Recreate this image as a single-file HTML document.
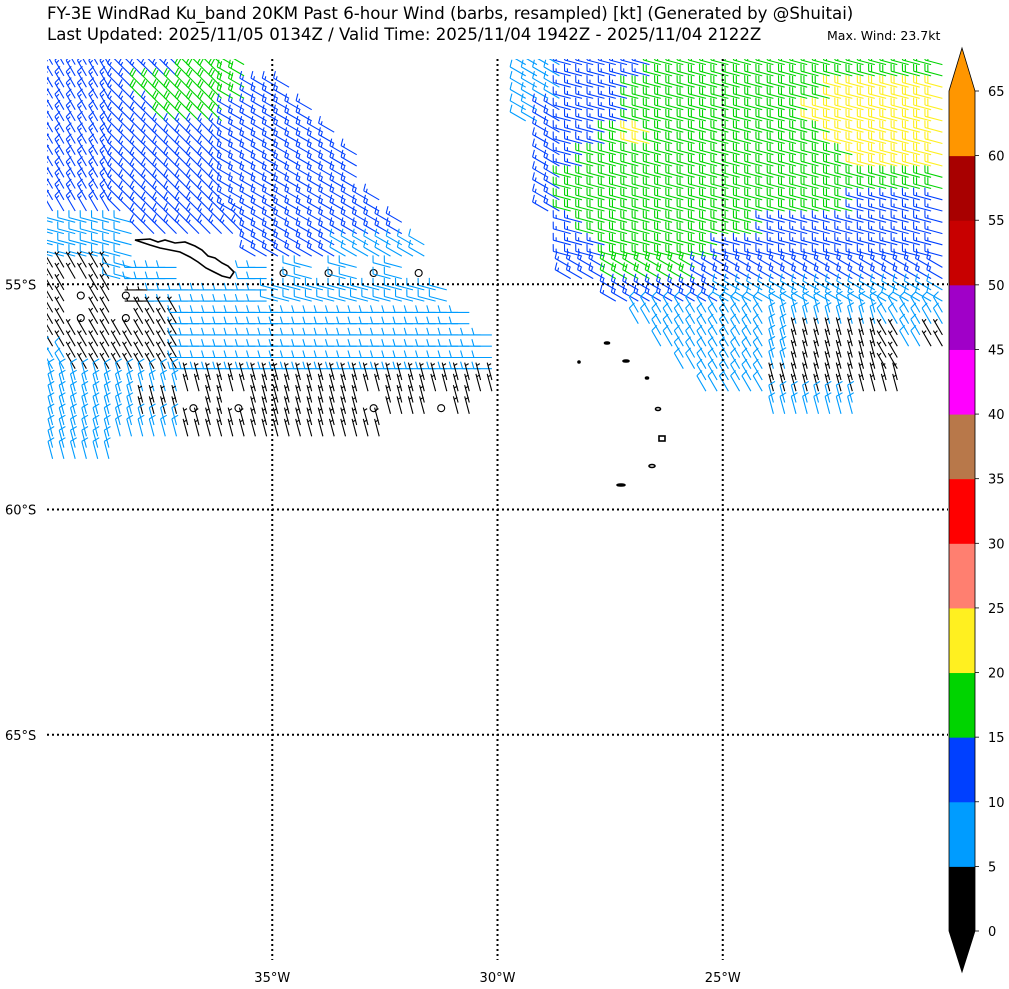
<!DOCTYPE html>
<html><head><meta charset="utf-8">
<style>
html,body{margin:0;padding:0;background:#fff;}
svg{display:block;font-family:"DejaVu Sans","Liberation Sans",sans-serif;}
</style></head>
<body>
<svg id="chart" width="1009" height="989" viewBox="0 0 1009 989" xmlns="http://www.w3.org/2000/svg">
<text x="47" y="19" font-size="16.6">FY-3E WindRad Ku_band 20KM Past 6-hour Wind (barbs, resampled) [kt] (Generated by @Shuitai)</text>
<text x="47" y="40" font-size="16.6">Last Updated: 2025/11/05 0134Z / Valid Time: 2025/11/04 1942Z - 2025/11/04 2122Z</text>
<text x="827" y="40" font-size="12.5">Max. Wind: 23.7kt</text>
<defs><clipPath id="mapclip"><rect x="47" y="59" width="901" height="901"/></clipPath></defs>
<g id="barbs" clip-path="url(#mapclip)"></g>
<g id="land" fill="none" stroke="#000" stroke-width="1.6">
<path d="M135,240 L150,239 L158,242 L165,240 L175,243 L185,242 L195,246 L202,250 L208,256 L215,258 L222,263 L228,266 L234,272 L230,278 L222,276 L214,272 L206,268 L198,262 L190,257 L180,252 L170,250 L160,248 L150,245 Z"/>
<ellipse cx="607" cy="343" rx="2.5" ry="1" fill="#000"/>
<ellipse cx="626" cy="361" rx="3" ry="1" fill="#000"/>
<ellipse cx="579" cy="362" rx="1" ry="1" fill="#000"/>
<ellipse cx="647" cy="378" rx="1.5" ry="1" fill="#000"/>
<ellipse cx="658" cy="409" rx="2.5" ry="1.5"/>
<rect x="659" y="436" width="6" height="5"/>
<ellipse cx="652" cy="466" rx="3" ry="1.5"/>
<ellipse cx="621" cy="485" rx="4" ry="1" fill="#000"/>
</g>
<g id="grid" stroke="#000" stroke-width="2" stroke-dasharray="2,3"></g>
<g id="labels" font-size="13"></g>
<g id="cbar"></g>
</svg>
<script>
// ---- data ----
const lonTicks = [-35, -30, -25];
const latTicks = [-55, -60, -65];
const cbLevels = [0,5,10,15,20,25,30,35,40,45,50,55,60,65];
const cbColors = ["#000000","#009cff","#0040ff","#00d400","#fff020","#ff7f70","#ff0000","#b8784a","#ff00ff","#a000c8","#c80000","#a80000","#ff9600"];
// speed category per 0.5deg cell (rows from 50S southward, cols from 40W eastward)
const catSpeed = {"c":1,"0":3,"1":8,"2":13,"3":18,"4":22};
const speedGrid = [
"222222"+"333"+"............"+"11"+"2222"+"3333333333333",
"2222"+"33333"+"22"+".........."+"11"+"222"+"333333333"+"44444",
"22222"+"333"+"2222"+"........."+"1"+"2222"+"33333333"+"444444",
"2222222222222"+"........."+"222"+"3"+"4"+"33333333"+"44444",
"22222222222222"+"........"+"22"+"333333333333"+"4444",
"22222222222222"+"........"+"2"+"33333333333333333",
"222222222222222"+"......."+"2"+"3333333333333"+"2222",
"1111"+"222222222222"+"......."+"2"+"33333333"+"22222222",
"1111"+"....."+"2222"+"1111"+"......"+"22"+"33333"+"2222222222",
"000"+"111"+"..."+"1"+"c1c1c1c"+"......"+"22"+"3333"+"22222222222",
"0c0c0"+"1111111111111"+"......."+"22222"+"1111111111",
"0c0c00"+"1111111111111"+"......."+"11111111111111",
"000000"+"11111111111111"+"......."+"111111"+"00000"+"1"+"0",
"1"+"00000"+"11111111111111"+"........"+"11111"+"00000"+"..",
"111111"+"00000000000000"+"........."+"111"+"000000"+"..",
"1111"+"00c0c00000c00c0"+"............."+"1111"+"....",
"111111"+"000000000"+".........................",
"111"+"....................................."
];
const dirGrid = [
"66655555444444444444"+"44433333333333333333",
"66655555444444444444"+"44433333333333333333",
"66655555444444444444"+"44433333333333333333",
"66655555444444444444"+"44433333333333333333",
"66655555444444444444"+"44433333333333333333",
"66655555444444444444"+"44433333333333333333",
"66655555444444444444"+"44433333333333333333",
"33335555544444444444"+"33333333333333333333",
"33335555544444444444"+"33333333333333333333",
"66632222223333333333"+"44444444444444444444",
"66632222223333333333"+"44444444444444444444",
"66666622222222222222"+"66666666666677777666",
"66666622222222222222"+"66666666666677777666",
"66666622222222222222"+"66666666666677777666",
"77777777777777777777"+"66666666666677777777",
"77777777777777777777"+"66666666666677777777",
"77777777777777777777"+"66666666666677777777",
"77777777777777777777"+"66666666666677777777"
];
const dirCodes = [240,255,270,285,300,315,330,345,360,15];
// ---- axes ----
const X0=47, Y0=59, W=901, H=901;
const xOf = lon => X0 + (lon + 40) / 20 * W;
const yOf = lat => Y0 + (-50 - lat) / 20 * H;
const NS="http://www.w3.org/2000/svg";
function mk(tag, attrs, parent){const e=document.createElementNS(NS,tag);for(const k in attrs)e.setAttribute(k,attrs[k]);parent.appendChild(e);return e;}
function colorFor(v){for(let i=0;i<cbColors.length;i++){if(v<cbLevels[i+1])return cbColors[i];}return cbColors[cbColors.length-1];}
// ---- barbs ----
const gB=document.getElementById('barbs');
const L=18;
function drawBarb(x,y,spd,dir){
  const col=colorFor(spd);
  if(spd<2.5){
    const c=mk('circle',{cx:x,cy:y,r:3.5,fill:'none',stroke:col,'stroke-width':1.1},gB);
    
    
    return;
  }
  const t=dir*Math.PI/180;
  const ux=Math.sin(t), uy=-Math.cos(t);
  const px=-uy, py=ux;
  const ex=x+ux*L, ey=y+uy*L;
  let d=`M${x.toFixed(1)},${y.toFixed(1)}L${ex.toFixed(1)},${ey.toFixed(1)}`;
  let r=Math.round(spd/5)*5;
  let full=Math.floor(r/10), half=(r%10)>=5?1:0;
  let pos=0;
  for(let i=0;i<full;i++){
    const bx=ex-ux*pos, by=ey-uy*pos;
    d+=`M${bx.toFixed(1)},${by.toFixed(1)}l${(px*7+ux*2).toFixed(1)},${(py*7+uy*2).toFixed(1)}`;
    pos+=3;
  }
  if(half){
    if(full===0)pos=3;
    const bx=ex-ux*pos, by=ey-uy*pos;
    d+=`M${bx.toFixed(1)},${by.toFixed(1)}l${(px*3.5+ux*1).toFixed(1)},${(py*3.5+uy*1).toFixed(1)}`;
  }
  const p=mk('path',{d:d,fill:'none',stroke:col,'stroke-width':1.1},gB);
  
  
}
for(let r=0;r<speedGrid.length;r++){
  for(let c=0;c<40;c++){
    const ch=speedGrid[r][c];
    if(!ch||ch==='.')continue;
    const spd=catSpeed[ch];
    const dir=dirCodes[+dirGrid[r][c]];
    const lon0=-40+c*0.5, lat0=-50-r*0.5;
    if(ch==='c'){drawBarb(xOf(lon0+0.25),yOf(lat0-0.25),spd,dir);continue;}
    for(let i=0;i<2;i++)for(let j=0;j<2;j++){
      drawBarb(xOf(lon0+0.125+j*0.25),yOf(lat0-0.125-i*0.25),spd,dir);
    }
  }
}
// ---- grid & labels ----
const gG=document.getElementById('grid'), gL=document.getElementById('labels');
lonTicks.forEach(lon=>{
  const x=xOf(lon);
  const l=mk('line',{x1:x,y1:Y0,x2:x,y2:Y0+H},gG);
  
  
  const t=mk('text',{x:x,y:982,'text-anchor':'middle'},gL);
  t.textContent=Math.abs(lon)+'°W';
  
  
});
latTicks.forEach(lat=>{
  const y=yOf(lat);
  const l=mk('line',{x1:X0,y1:y,x2:X0+W,y2:y},gG);
  
  
  const t=mk('text',{x:5,y:y+5},gL);
  t.textContent=Math.abs(lat)+'°S';
  
  
});
// ---- colorbar ----
const gC=document.getElementById('cbar');
const cbX=949, cbW=26, cbTop=91, cbBot=931;
const cbY=v=>cbBot-(v-cbLevels[0])/(cbLevels[cbLevels.length-1]-cbLevels[0])*(cbBot-cbTop);
for(let i=0;i<cbColors.length;i++){
  const y1=cbY(cbLevels[i+1]), y2=cbY(cbLevels[i]);
  const rc=mk('rect',{x:cbX,y:y1,width:cbW,height:y2-y1+0.5,fill:cbColors[i]},gC);
  
  
}
const tTop=mk('polygon',{points:`${cbX},${cbTop} ${cbX+cbW/2},48 ${cbX+cbW},${cbTop}`,fill:cbColors[cbColors.length-1]},gC);


const tBot=mk('polygon',{points:`${cbX},${cbBot} ${cbX+cbW/2},972 ${cbX+cbW},${cbBot}`,fill:cbColors[0]},gC);


const outline=mk('polygon',{points:`${cbX},${cbTop} ${cbX+cbW/2},48 ${cbX+cbW},${cbTop} ${cbX+cbW},${cbBot} ${cbX+cbW/2},972 ${cbX},${cbBot}`,fill:'none',stroke:'#000','stroke-width':0.8},gC);


cbLevels.forEach(v=>{
  const y=cbY(v);
  const tk=mk('line',{x1:cbX+cbW,y1:y,x2:cbX+cbW+4,y2:y,stroke:'#000','stroke-width':0.8},gC);
  
  
  const t=mk('text',{x:988,y:y+5,'font-size':13},gC);
  t.textContent=v;
  
  
});
</script>
</body></html>
